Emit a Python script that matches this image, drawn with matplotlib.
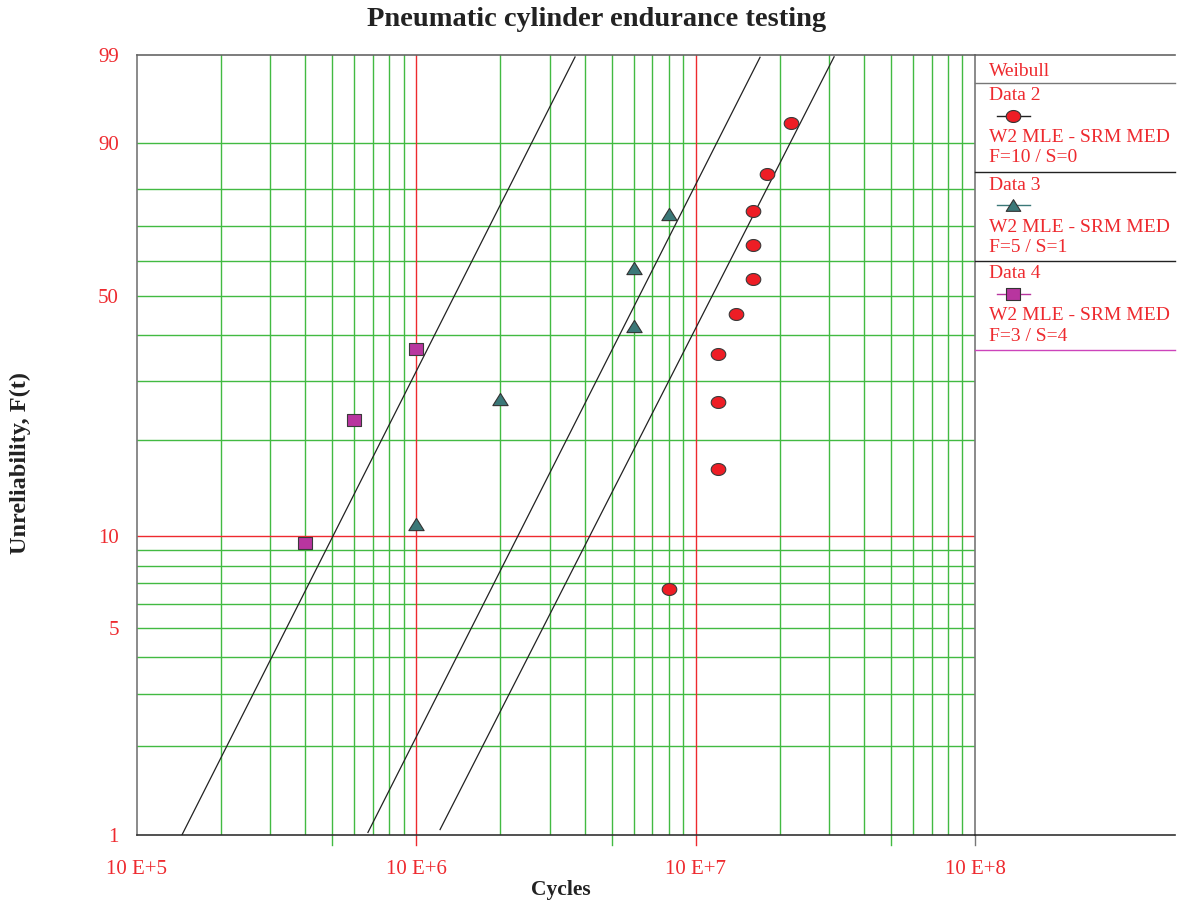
import numpy as np
import matplotlib
matplotlib.use('Agg')
import matplotlib.pyplot as plt
from matplotlib.path import Path
from matplotlib.lines import Line2D

# ---------------- data ----------------
data2_cycles = [8.0e6, 1.2e7, 1.2e7, 1.2e7, 1.4e7, 1.6e7, 1.6e7, 1.6e7, 1.8e7, 2.2e7]
data2_unrel = [6.73, 16.35, 25.96, 35.58, 45.19, 54.81, 64.42, 74.04, 83.65, 93.27]
data3_cycles = [1.0e6, 2.0e6, 6.0e6, 6.0e6, 8.0e6]
data3_unrel = [10.94, 26.56, 42.19, 57.81, 73.44]
data4_cycles = [4.0e5, 6.0e5, 1.0e6]
data4_unrel = [9.46, 23.0, 36.7]

# Weibull (2-parameter) fitted lines: Data 4, Data 3, Data 2
fit_beta = [1.886, 1.884, 1.869]
fit_eta = [1.66e6, 7.63e6, 1.393e7]
fit_tmin = [1.45e5, 6.71e5, 1.216e6]
fit_tmax = [3.70e6, 1.70e7, 3.13e7]

y_ticks = [1, 5, 10, 50, 90, 99]
y_grid = [2, 3, 4, 5, 6, 7, 8, 9, 20, 30, 40, 50, 60, 70, 80, 90]
x_ticks = [1e5, 1e6, 1e7, 1e8]
x_tick_labels = ['10 E+5', '10 E+6', '10 E+7', '10 E+8']
legend_names = ['Data 2', 'Data 3', 'Data 4']
legend_method = ['W2 MLE - SRM MED', 'W2 MLE - SRM MED', 'W2 MLE - SRM MED']
legend_stats = ['F=10 / S=0', 'F=5 / S=1', 'F=3 / S=4']

# ---------------- style ----------------
W, H = 1180, 905
SERIF = ['Liberation Serif', 'DejaVu Serif']
RED = '#ee2a2f'
GREEN = '#42ba42'
C_RED = '#ee1d25'
C_TEAL = '#3b7878'
C_MAG = '#b8359f'

def fx(px):
    return px / W

def fy(py):
    return 1 - py / H

def fwd(F):
    F = np.clip(np.asarray(F, dtype=float), 1e-9, 100 - 1e-9)
    return np.log(-np.log(1 - F / 100.0))

def inv(y):
    return 100.0 * (1 - np.exp(-np.exp(np.asarray(y, dtype=float))))

th = np.linspace(0, 2 * np.pi, 41)
ellipse = Path(np.column_stack([np.cos(th), 0.82 * np.sin(th)]), closed=True)
rect = Path([(-1, -0.82), (1, -0.82), (1, 0.82), (-1, 0.82), (-1, -0.82)], closed=True)
tri = Path([(0, 0.8), (-1, -0.8), (1, -0.8), (0, 0.8)], closed=True)

fig = plt.figure(figsize=(W / 100, H / 100), dpi=100)
ax = fig.add_axes([fx(137), fy(835), fx(975) - fx(137), fy(55) - fy(835)])
ax.set_xscale('log')
ax.set_yscale('function', functions=(fwd, inv))
ax.set_xlim(1e5, 1e8)
ax.set_ylim(1, 99)

# grid
for d in [1e5, 1e6, 1e7]:
    for k in range(2, 10):
        ax.axvline(k * d, color=GREEN, lw=1.0, zorder=1)
for v, c in [(1e6, RED), (1e7, RED)]:
    ax.axvline(v, color=c, lw=1.0, zorder=1.2)
for g in y_grid:
    ax.axhline(g, color=GREEN, lw=1.0, zorder=1)
ax.axhline(10, color=RED, lw=1.0, zorder=1.2)

# ticks extending below the axis
for v, c in [(5e5, GREEN), (1e6, RED), (5e6, GREEN), (1e7, RED), (5e7, GREEN), (1e8, '#777777')]:
    ax.plot([v, v], [0, -0.013], transform=ax.get_xaxis_transform(), color=c, lw=1.0, clip_on=False)

# fitted lines
for b, e, t0, t1 in zip(fit_beta, fit_eta, fit_tmin, fit_tmax):
    t = np.logspace(np.log10(t0), np.log10(t1), 200)
    F = 100 * (1 - np.exp(-(t / e) ** b))
    ax.plot(t, F, color='#222222', lw=0.9, zorder=3)

ax.plot(data2_cycles, data2_unrel, ls='none', marker=ellipse, ms=10.5, mfc=C_RED, mec='#3a3a3a', mew=0.8, zorder=5)
ax.plot(data3_cycles, data3_unrel, ls='none', marker=tri, ms=11, mfc=C_TEAL, mec='#333333', mew=0.8, zorder=5)
ax.plot(data4_cycles, data4_unrel, ls='none', marker=rect, ms=10.5, mfc=C_MAG, mec='#3a3a3a', mew=0.8, zorder=5)

# spines / ticks
for s, c in [('left', '#777777'), ('right', '#777777'), ('top', '#666666'), ('bottom', '#333333')]:
    ax.spines[s].set_color(c)
    ax.spines[s].set_linewidth(1.2)
ax.set_yticks(y_ticks)
ax.set_yticklabels([str(v) for v in y_ticks])
ax.set_xticks(x_ticks)
ax.set_xticklabels(x_tick_labels)
ax.minorticks_off()
ax.tick_params(axis='y', length=0, pad=13, labelcolor=RED, labelsize=15)
ax.tick_params(axis='x', length=0, pad=18, labelcolor=RED, labelsize=15)
for lab in ax.get_xticklabels() + ax.get_yticklabels():
    lab.set_family(SERIF)

# titles
fig.text(fx(597), fy(19), 'Pneumatic cylinder endurance testing', ha='center', va='center',
         fontsize=20.5, fontweight='bold', color='#222222', family=SERIF)
fig.text(fx(561), fy(890), 'Cycles', ha='center', va='center', fontsize=15.5,
         fontweight='bold', color='#222222', family=SERIF)
fig.text(fx(20), fy(463), 'Unreliability, F(t)', ha='center', va='center', rotation=90,
         fontsize=17.5, fontweight='bold', color='#222222', family=SERIF)

# legend panel
def hline(y, x0, x1, color, lw=1.0):
    fig.add_artist(Line2D([fx(x0), fx(x1)], [fy(y), fy(y)], transform=fig.transFigure,
                          color=color, lw=lw))

hline(55, 975, 1175, '#666666', 1.2)
hline(835, 975, 1175, '#333333', 1.2)
hline(83, 975, 1175, '#777777', 1.0)
fig.text(fx(989), fy(72), 'Weibull', ha='left', va='center', fontsize=14, color=RED, family=SERIF)

block_top = [83, 172, 261]
line_colors = ['#222222', C_TEAL, C_MAG]
markers = [ellipse, tri, rect]
mfcs = [C_RED, C_TEAL, C_MAG]
div_colors = ['#222222', '#222222', '#cc44bb']
for i in range(3):
    y0 = block_top[i]
    fig.text(fx(989), fy(y0 + 13), legend_names[i], ha='left', va='center', fontsize=14, color=RED, family=SERIF)
    fig.add_artist(Line2D([fx(997), fx(1030)], [fy(y0 + 33), fy(y0 + 33)], transform=fig.transFigure,
                          color=line_colors[i], lw=1.0))
    fig.add_artist(Line2D([fx(1013)], [fy(y0 + 33)], transform=fig.transFigure, ls='none',
                          marker=markers[i], ms=10.5, mfc=mfcs[i], mec='#333333', mew=0.8))
    fig.text(fx(989), fy(y0 + 55), legend_method[i], ha='left', va='center', fontsize=14, color=RED, family=SERIF)
    fig.text(fx(989), fy(y0 + 75), legend_stats[i], ha='left', va='center', fontsize=14, color=RED, family=SERIF)
    hline(y0 + 89, 975, 1175, div_colors[i], 1.0)

fig.savefig('out.png', dpi=100)
